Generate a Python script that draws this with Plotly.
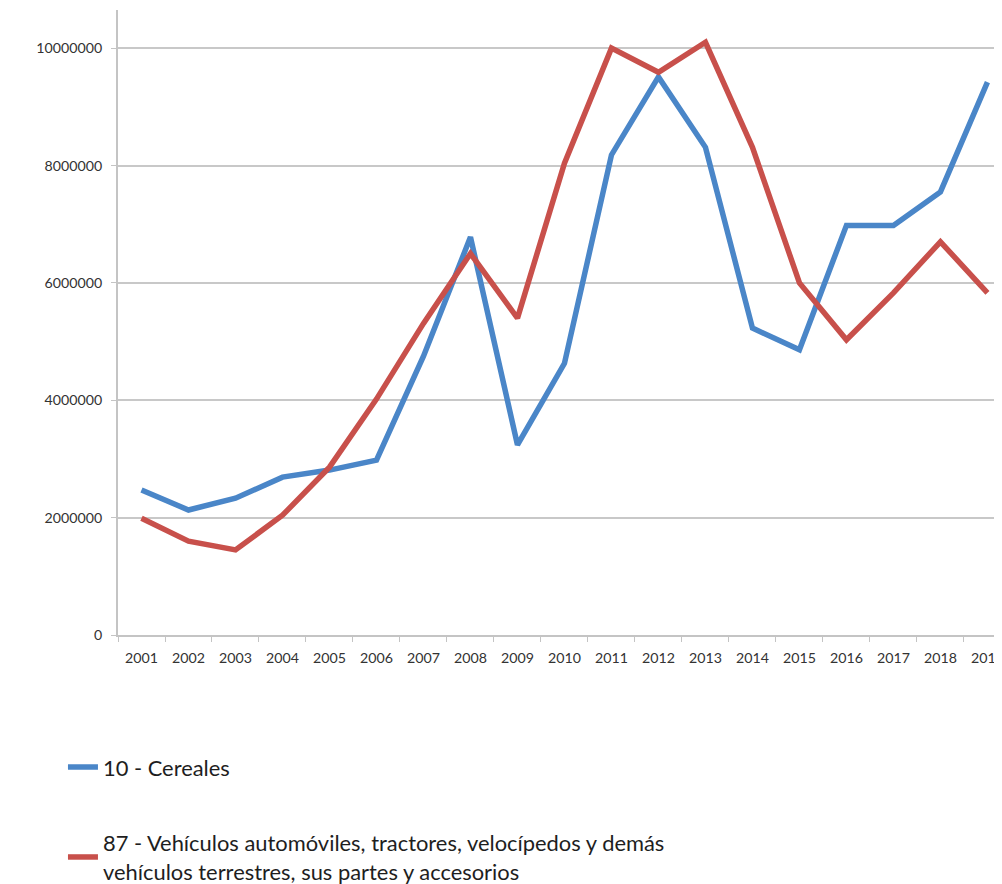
import plotly.graph_objects as go

years = [str(y) for y in range(2001, 2020)]
cereales = [2470000, 2130000, 2330000, 2690000, 2810000, 2980000, 4750000, 6780000,
            3240000, 4630000, 8180000, 9510000, 8310000, 5230000, 4860000, 6980000,
            6980000, 7550000, 9420000]
vehiculos = [1990000, 1600000, 1450000, 2040000, 2860000, 4020000, 5310000, 6500000,
             5400000, 8040000, 10000000, 9590000, 10100000, 8310000, 6000000, 5030000,
             5830000, 6700000, 5830000]
name_cereales = "10 - Cereales"
name_vehiculos = ("87 - Vehículos automóviles, tractores, velocípedos y demás<br>"
                  "vehículos terrestres, sus partes y accesorios")
y_ticks = [0, 2000000, 4000000, 6000000, 8000000, 10000000]

BLUE = "#4a86c8"
RED = "#c8504b"
FONT = "Lato"

fig = go.Figure()
fig.add_trace(go.Scatter(x=years, y=cereales, name=name_cereales, mode="lines",
                         line=dict(color=BLUE, width=5.5), legend="legend"))
fig.add_trace(go.Scatter(x=years, y=vehiculos, name=name_vehiculos, mode="lines",
                         line=dict(color=RED, width=5.5), legend="legend2"))

fig.update_layout(
    width=1002, height=884,
    margin=dict(l=110, r=0, t=2, b=254),
    paper_bgcolor="white", plot_bgcolor="white",
    font=dict(family=FONT, color="#333333"),
    xaxis=dict(range=[-0.5, 18.48], showgrid=False, showline=True,
               linecolor="#c4c4c4", linewidth=2, ticks="outside",
               tickson="boundaries", ticklen=5, tickcolor="#c4c4c4",
               ticklabelstandoff=9,
               tickfont=dict(size=14.2, color="#333333"), zeroline=False),
    yaxis=dict(range=[0, 10650000], tickvals=y_ticks,
               ticktext=[str(v) for v in y_ticks], showgrid=True,
               gridcolor="#c8c8c8", gridwidth=1.5, showline=True,
               linecolor="#c4c4c4", linewidth=2, ticks="outside", ticklen=5,
               tickcolor="#c4c4c4", ticklabelstandoff=6,
               tickfont=dict(size=14.2, color="#333333"),
               zeroline=False),
    legend=dict(x=-0.0617, y=-0.2118, xanchor="left", yanchor="middle",
                font=dict(size=21.9, color="#1e1e1e", family=FONT),
                bgcolor="rgba(0,0,0,0)"),
    legend2=dict(x=-0.0617, y=-0.3555, xanchor="left", yanchor="middle",
                 font=dict(size=21.9, color="#1e1e1e", family=FONT),
                 bgcolor="rgba(0,0,0,0)"),
    showlegend=True,
)

fig.write_html("out.html")
